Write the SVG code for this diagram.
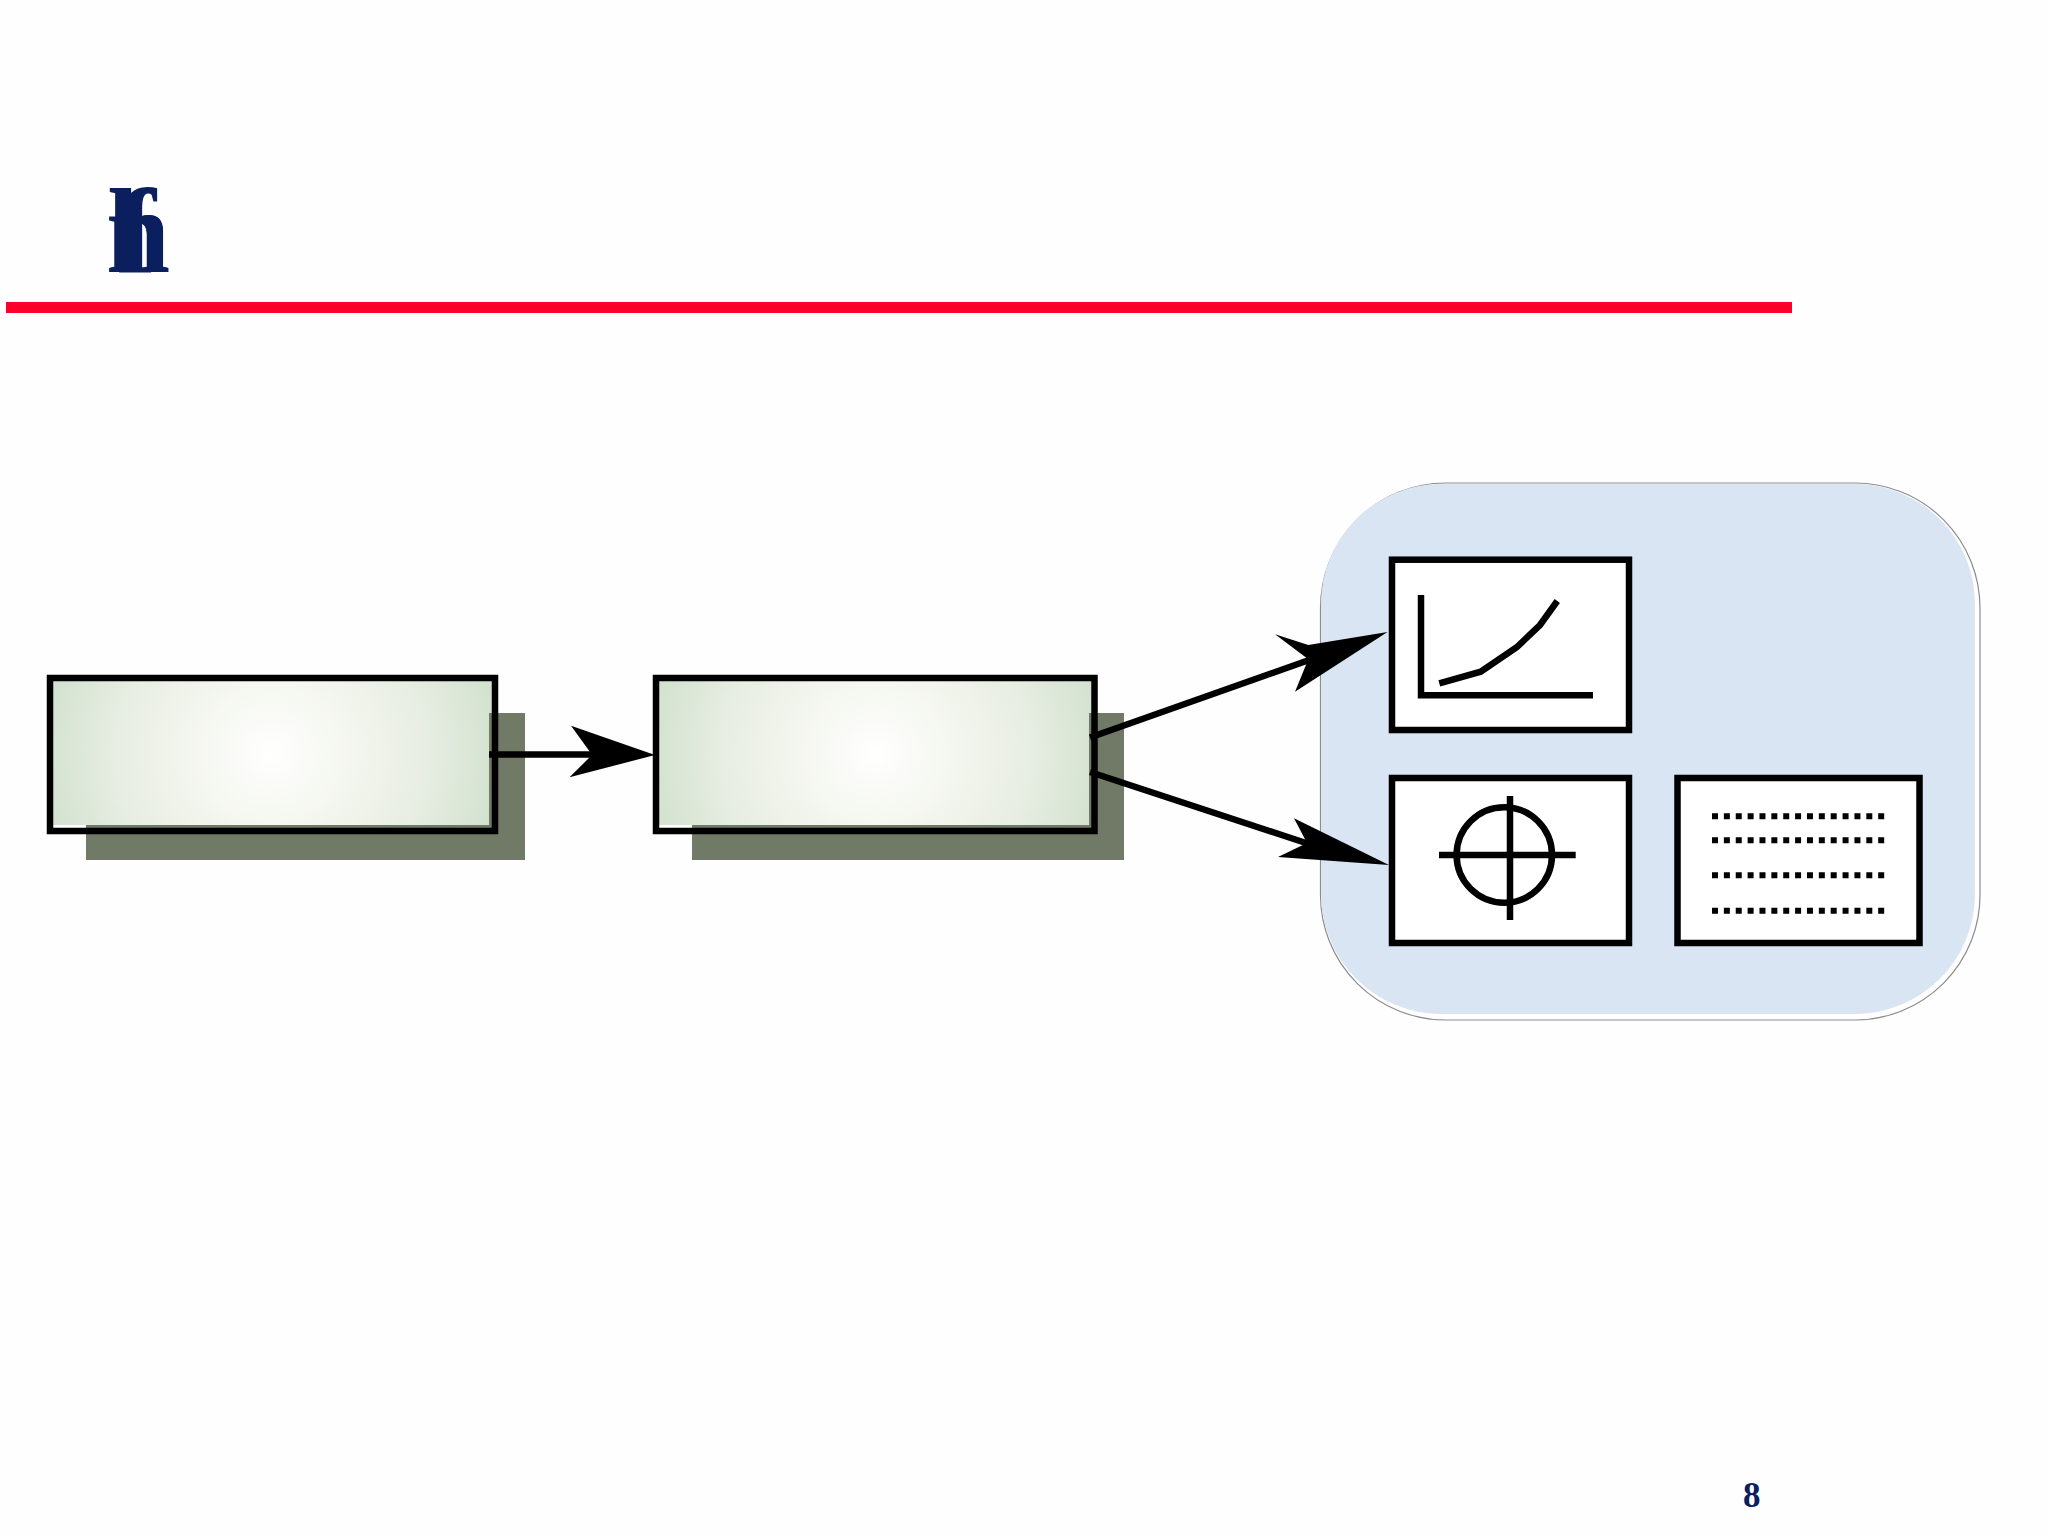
<svg xmlns="http://www.w3.org/2000/svg" width="2048" height="1537" viewBox="0 0 2048 1537">
<style>
.shadow{fill:#707a66}
.frame{fill:none;stroke:#000;stroke-width:6.5}
.panel{fill:#fff;stroke:#000;stroke-width:6.5}
.ink{fill:none;stroke:#000;stroke-width:6.5}
.dots{fill:none;stroke:#000;stroke-width:6;stroke-dasharray:6 5.87}
.head{fill:#000;stroke:none}
.title{font-family:"Liberation Serif","Times New Roman",serif;font-weight:700;font-size:120px;fill:#0b1f5e}
.page{font-family:"Liberation Serif","Times New Roman",serif;font-weight:700;font-size:35px;fill:#0b1f5e}
</style>
<defs>
<radialGradient id="g1" gradientUnits="userSpaceOnUse" cx="271" cy="753" r="232">
<stop offset="0" stop-color="#ffffff"/><stop offset=".3" stop-color="#f5f7f0"/><stop offset=".65" stop-color="#e8eee3"/><stop offset="1" stop-color="#d2e1ce"/>
</radialGradient>
<radialGradient id="g2" gradientUnits="userSpaceOnUse" cx="876" cy="753" r="230">
<stop offset="0" stop-color="#ffffff"/><stop offset=".3" stop-color="#f5f7f0"/><stop offset=".65" stop-color="#e8eee3"/><stop offset="1" stop-color="#d2e1ce"/>
</radialGradient>
</defs>
<rect width="2048" height="1537" fill="#fefefe"/>
<g id="title">
<text class="title" x="107" y="272" textLength="63" lengthAdjust="spacingAndGlyphs">h</text>
<text class="title" x="106" y="272" textLength="64" lengthAdjust="spacingAndGlyphs">n</text>
<text class="title" x="116" y="272">f</text>
</g>
<rect id="rule" x="6" y="302" width="1786" height="11" fill="#fb0029"/>
<g id="container">
<rect x="1320.5" y="483" width="659.5" height="537" rx="125" ry="125" fill="#fff" stroke="#8c8c8c" stroke-width="1.2"/>
<rect x="1321" y="484" width="654" height="530" rx="120" ry="120" fill="#d9e5f2"/>
</g>
<g id="box-1">
<rect class="shadow" x="86" y="713" width="439" height="147"/>
<path d="M53 681H492V713H489V825H53Z" fill="url(#g1)"/>
<rect class="frame" x="50" y="678" width="445" height="153"/>
</g>
<g id="box-2">
<rect class="shadow" x="692" y="713" width="432" height="147"/>
<path d="M659 681H1092V713H1089V825H659Z" fill="url(#g2)"/>
<rect class="frame" x="656" y="678" width="438.5" height="153"/>
</g>
<g id="panel-chart">
<rect class="panel" x="1392" y="559.7" width="237" height="170.3"/>
<path class="ink" d="M1421 595V695.3H1593"/>
<path class="ink" d="M1439.3 683.3L1480.7 671.7L1516.7 647.3L1540 625L1557.3 601"/>
</g>
<g id="panel-target">
<rect class="panel" x="1392" y="778" width="237" height="165"/>
<circle class="ink" cx="1504.3" cy="855" r="47.7"/>
<path class="ink" d="M1510 796V920M1439 855H1575.7"/>
</g>
<g id="panel-list">
<rect class="panel" x="1677.5" y="778" width="242" height="165"/>
<path class="dots" d="M1712 816.3H1885M1712 840.3H1885M1712 875.3H1885M1712 910.7H1885"/>
</g>
<g id="connectors">
<path class="ink" d="M489 754.5H592"/>
<polygon class="head" points="655,755 571,725.7 590,752 590,757 569.5,777.3"/>
<path class="ink" d="M1090 737.5L1312 659"/>
<polygon class="head" points="1387.5,632 1308.3,645 1275,634.3 1308.3,659.3 1295,691.7"/>
<path class="ink" d="M1090 772L1312 845"/>
<polygon class="head" points="1389,865 1294,818.3 1307,843 1278,857"/>
</g>
<text id="page-number" class="page" x="1743" y="1507">8</text>
</svg>
